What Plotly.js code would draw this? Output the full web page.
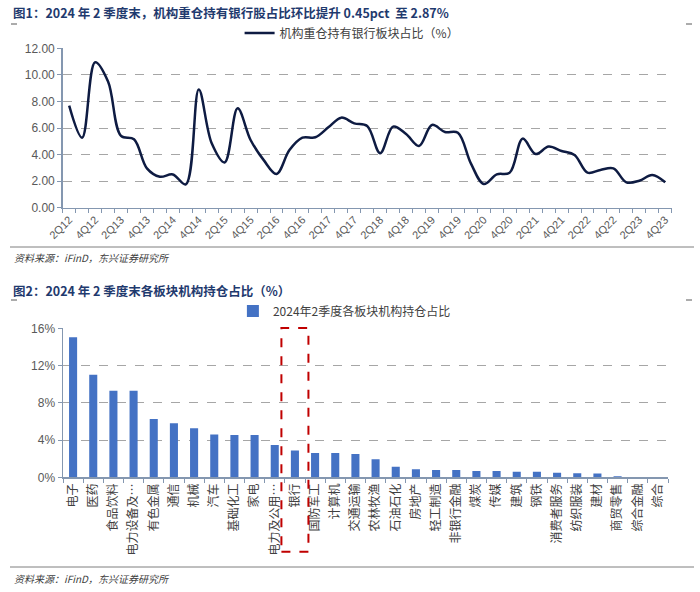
<!DOCTYPE html>
<html><head><meta charset="utf-8">
<script src="https://cdn.plot.ly/plotly-3.0.1.min.js"></script>
<style>html,body{margin:0;padding:0;background:#fff}#chart{width:700px;height:592px}</style>
</head><body><div id="chart"></div>
<script>
// ---------- data ----------
const quarters = ['2Q12','3Q12','4Q12','1Q13','2Q13','3Q13','4Q13','1Q14','2Q14','3Q14','4Q14',
  '1Q15','2Q15','3Q15','4Q15','1Q16','2Q16','3Q16','4Q16','1Q17','2Q17','3Q17','4Q17',
  '1Q18','2Q18','3Q18','4Q18','1Q19','2Q19','3Q19','4Q19','1Q20','2Q20','3Q20','4Q20',
  '1Q21','2Q21','3Q21','4Q21','1Q22','2Q22','3Q22','4Q22','1Q23','2Q23','3Q23','4Q23'];
const bankShare = [7.68,5.27,10.95,9.5,5.4,5.15,2.96,2.33,2.5,1.76,8.9,
  4.85,3.41,7.48,5.1,3.6,2.54,4.34,5.27,5.3,6.05,6.78,6.35,
  6.15,4.1,6.1,5.55,4.65,6.23,5.7,5.65,3.34,1.78,2.51,2.64,
  5.2,4.04,4.6,4.27,3.97,2.64,2.84,2.96,1.91,2.03,2.46,1.91];
const sectors = ['电子','医药','食品饮料','电力设备及…','有色金属','通信','机械','汽车','基础化工','家电',
  '电力及公用…','银行','国防军工','计算机','交通运输','农林牧渔','石油石化','房地产','轻工制造','非银行金融',
  '煤炭','传媒','建筑','钢铁','消费者服务','纺织服装','建材','商贸零售','综合金融','综合'];
const sectorShare = [15.05,11.0,9.3,9.3,6.25,5.8,5.26,4.6,4.55,4.55,
  3.47,2.87,2.6,2.6,2.5,1.93,1.14,0.86,0.78,0.78,
  0.68,0.68,0.6,0.6,0.5,0.43,0.4,0.1,0.03,0.01];
const lineName = '机构重仓持有银行板块占比（%）';
const barName = '2024年2季度各板块机构持仓占比';
const title1 = '图1：2024 年 2 季度末，机构重仓持有银行股占比环比提升 0.45pct  至 2.87%';
const title2 = '图2：2024 年 2 季度末各板块机构持仓占比（%）';
const sourceText = '资料来源：iFinD，东兴证券研究所';
const highlight = '银行';

// ---------- layout helpers ----------
const W = 700, H = 592;
const px = x => x / W;
const py = y => 1 - y / H;
const FONT = "'Liberation Sans', 'Noto Sans CJK SC', sans-serif";
const CJK = "'Noto Sans CJK SC', 'Liberation Sans', sans-serif";
const axisBlue = '#8497B0';
const titleColor = '#1F3A6E';

const traces = [
  {type:'scatter', mode:'lines', x: quarters, y: bankShare, name: lineName,
   line:{color:'#0E1B42', width:2.5, shape:'spline', smoothing:1},
   xaxis:'x', yaxis:'y', legend:'legend'},
  {type:'bar', x: sectors, y: sectorShare, name: barName,
   marker:{color:'#4472C4'}, xaxis:'x2', yaxis:'y2', legend:'legend2'}
];

const hi = sectors.indexOf(highlight);

const layout = {
  width: W, height: H,
  margin:{l:0,r:0,t:0,b:0},
  paper_bgcolor:'#fff', plot_bgcolor:'#fff',
  font:{family: FONT, color:'#595959'},
  bargap: 0.6,
  showlegend: true,
  legend:{x:0.503, xanchor:'center', y:py(33), yanchor:'middle', orientation:'h',
    font:{family:CJK, size:12, color:'#404040'}, bgcolor:'rgba(0,0,0,0)'},
  legend2:{x:0.492, xanchor:'center', y:py(311), yanchor:'middle', orientation:'h',
    font:{family:CJK, size:12, color:'#404040'}, bgcolor:'rgba(0,0,0,0)'},
  xaxis:{domain:[px(62.7), px(671.7)], anchor:'y', type:'category',
    range:[-0.5, quarters.length - 0.5],
    tickmode:'array', tickvals: quarters,
    ticktext: quarters.map((q,i) => i % 2 === 0 ? q : ''),
    tickangle:-45, tickson:'boundaries', ticks:'outside', ticklen:4, tickcolor:axisBlue,
    showline:true, linecolor:axisBlue, linewidth:1.5, showgrid:false, zeroline:false,
    tickfont:{size:11, color:'#595959', family:FONT}},
  yaxis:{domain:[py(207.7), py(48.3)], anchor:'x', range:[0,12], dtick:2, tickformat:'.2f',
    showgrid:true, gridcolor:'#A6A6A6', griddash:'dash', gridwidth:1,
    showline:true, linecolor:axisBlue, linewidth:1.5, ticks:'outside', ticklen:4, tickcolor:axisBlue,
    zeroline:false, tickfont:{size:12, color:'#595959', family:FONT}},
  xaxis2:{domain:[px(63), px(668)], anchor:'y2', type:'category',
    range:[-0.5, sectors.length - 0.5],
    tickangle:-90, tickson:'boundaries', ticks:'outside', ticklen:4, tickcolor:axisBlue,
    showline:true, linecolor:axisBlue, linewidth:1.5, showgrid:false, zeroline:false,
    tickfont:{size:12, color:'#404040', family:CJK}},
  yaxis2:{domain:[py(477.3), py(328.3)], anchor:'x2', range:[0,16], dtick:4, ticksuffix:'%',
    showgrid:true, gridcolor:'#A6A6A6', griddash:'dash', gridwidth:1,
    showline:true, linecolor:axisBlue, linewidth:1.5, ticks:'outside', ticklen:4, tickcolor:axisBlue,
    zeroline:false, tickfont:{size:12, color:'#595959', family:FONT}},
  annotations:[
    {text:'<b>'+title1+'</b>', xref:'paper', yref:'paper', x:px(11), y:py(13), xanchor:'left', yanchor:'middle',
     showarrow:false, font:{family:CJK, size:12.5, color:titleColor}},
    {text:'<b>'+title2+'</b>', xref:'paper', yref:'paper', x:px(11), y:py(290), xanchor:'left', yanchor:'middle',
     showarrow:false, font:{family:CJK, size:12.5, color:titleColor}},
    {text:sourceText, xref:'paper', yref:'paper', x:px(12), y:py(258), xanchor:'left', yanchor:'middle',
     showarrow:false, font:{family:CJK, size:10, color:'#404040', style:'italic'}},
    {text:sourceText, xref:'paper', yref:'paper', x:px(12), y:py(578), xanchor:'left', yanchor:'middle',
     showarrow:false, font:{family:CJK, size:10, color:'#404040', style:'italic'}}
  ],
  shapes:[
    {type:'line', xref:'paper', yref:'paper', x0:px(10), x1:px(694), y0:py(247), y1:py(247), line:{color:'#7F7F7F', width:1}},
    {type:'line', xref:'paper', yref:'paper', x0:px(10), x1:px(694), y0:py(567), y1:py(567), line:{color:'#7F7F7F', width:1}},
    {type:'line', xref:'paper', yref:'paper', x0:px(11), x1:px(17), y0:py(24), y1:py(24), line:{color:'#595959', width:1}},
    {type:'line', xref:'paper', yref:'paper', x0:px(686), x1:px(692), y0:py(24), y1:py(24), line:{color:'#595959', width:1}},
    {type:'line', xref:'paper', yref:'paper', x0:px(11), x1:px(17), y0:py(300), y1:py(300), line:{color:'#595959', width:1}},
    {type:'line', xref:'paper', yref:'paper', x0:px(686), x1:px(692), y0:py(300), y1:py(300), line:{color:'#595959', width:1}},
    {type:'rect', xref:'x2', yref:'paper', x0:hi - 0.67, x1:hi + 0.67, y0:py(551.7), y1:py(328),
     line:{color:'#C00000', width:2, dash:'dash'}, fillcolor:'rgba(0,0,0,0)'}
  ]
};

Plotly.newPlot('chart', traces, layout, {displayModeBar:false, staticPlot:true});
</script>
</body></html>
